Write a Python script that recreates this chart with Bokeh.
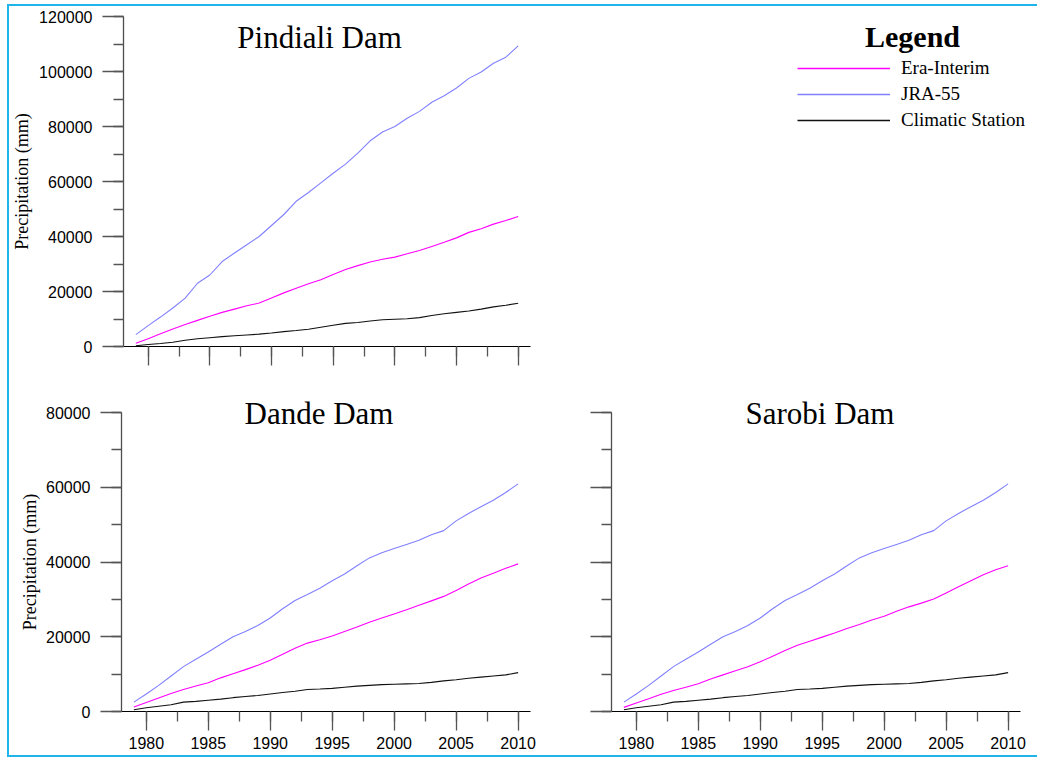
from bokeh.plotting import figure
from bokeh.layouts import column, row
from bokeh.models import (Range1d, SingleIntervalTicker, BasicTickFormatter, Label, Title,
                          Legend, LegendItem, ColumnDataSource)
from bokeh.embed import file_html
from bokeh.resources import INLINE

years = list(range(1979, 2011))

pindiali_era = [1200, 2800, 4600, 6400, 8000, 9500, 11000, 12400, 13600, 14800, 15800,
                17600, 19500, 21200, 22800, 24300, 26200, 28000, 29400, 30700, 31700,
                32500, 33700, 34900, 36400, 37900, 39500, 41500, 42800, 44500, 45800, 47300]
pindiali_jra = [4300, 7600, 10700, 14000, 17600, 23000, 26000, 30900, 34000, 37000, 40000,
                44000, 48000, 52800, 56000, 59500, 63000, 66300, 70300, 74800, 78000,
                80000, 83000, 85500, 88800, 91200, 94000, 97500, 99800, 103000, 105200, 109300]
pindiali_stn = [300, 700, 1100, 1550, 2300, 2800, 3200, 3600, 3900, 4200, 4500,
                4900, 5400, 5800, 6300, 7000, 7700, 8400, 8700, 9300, 9700,
                9900, 10100, 10500, 11300, 11900, 12400, 12900, 13600, 14400, 15000, 15700]

dande_era = [1200, 2400, 3600, 4800, 5900, 6800, 7700, 9000, 10100, 11200, 12400,
             13700, 15300, 16900, 18300, 19200, 20200, 21400, 22600, 23900, 25000,
             26100, 27200, 28400, 29600, 30800, 32400, 34100, 35700, 37000, 38300, 39500]
dande_jra = [2500, 4700, 7000, 9500, 12000, 14000, 15900, 18000, 20000, 21400, 23000,
             25000, 27500, 29700, 31300, 33000, 35000, 36800, 39000, 41100, 42500,
             43600, 44700, 45800, 47300, 48400, 51000, 53000, 54800, 56500, 58600, 60900]
dande_stn = [450, 1000, 1400, 1800, 2500, 2700, 3000, 3300, 3700, 4000, 4300,
             4700, 5100, 5400, 5900, 6000, 6200, 6500, 6800, 7000, 7200,
             7300, 7400, 7500, 7800, 8200, 8500, 8900, 9200, 9500, 9800, 10400]

sarobi_era = [1100, 2300, 3400, 4600, 5600, 6500, 7400, 8700, 9800, 10900, 12000,
              13300, 14800, 16300, 17700, 18800, 19900, 21000, 22200, 23300, 24500,
              25500, 26800, 28000, 29000, 30100, 31700, 33400, 35000, 36600, 37900, 39000]
sarobi_jra = [2500, 4700, 7000, 9500, 12000, 14000, 15900, 18000, 20000, 21400, 23000,
              25000, 27500, 29700, 31300, 33000, 35000, 36800, 39000, 41100, 42500,
              43600, 44700, 45800, 47300, 48400, 51000, 53000, 54800, 56500, 58600, 60900]
sarobi_stn = [450, 1000, 1400, 1800, 2500, 2700, 3000, 3300, 3700, 4000, 4300,
              4700, 5100, 5400, 5900, 6000, 6200, 6500, 6800, 7000, 7200,
              7300, 7400, 7500, 7800, 8200, 8500, 8900, 9200, 9500, 9800, 10400]

series_names = ["Era-Interim", "JRA-55", "Climatic Station"]
series_colors = ["#ff00ff", "#8080ff", "#111111"]

SERIF = "Liberation Serif"
SANS = "Liberation Sans"


def make_panel(era, jra, stn, ymax, width, height, mb_left, mb_right, mb_top, mb_bottom,
               show_xlabels, show_ylabels, ylabel_standoff):
    p = figure(width=width, height=height, x_range=Range1d(1978, 2011), y_range=Range1d(0, ymax),
               output_backend="svg", toolbar_location=None, title=None,
               min_border_left=mb_left, min_border_right=mb_right,
               min_border_top=mb_top, min_border_bottom=mb_bottom)
    p.outline_line_color = None
    p.grid.visible = False
    p.background_fill_color = "white"
    p.border_fill_color = "white"

    src = ColumnDataSource(dict(year=years, era=era, jra=jra, stn=stn))
    for key, col in zip(["era", "jra", "stn"], series_colors):
        p.line("year", key, source=src, line_color=col, line_width=1.1)

    xa = p.xaxis[0]
    xa.ticker = SingleIntervalTicker(interval=5, num_minor_ticks=2)
    xa.major_tick_in = 0
    xa.major_tick_out = 19
    xa.minor_tick_in = 0
    xa.minor_tick_out = 10
    xa.axis_line_color = "black"
    xa.major_tick_line_color = "#555555"
    xa.minor_tick_line_color = "#555555"
    xa.major_tick_line_width = 1.3
    xa.minor_tick_line_width = 1.3
    xa.major_label_text_font = SANS
    xa.major_label_text_color = "black"
    if show_xlabels:
        xa.major_label_text_font_size = "16px"
        xa.major_label_standoff = 6
    else:
        xa.major_label_text_font_size = "0px"
        xa.major_label_standoff = 0

    ya = p.yaxis[0]
    ya.ticker = SingleIntervalTicker(interval=20000, num_minor_ticks=2)
    ya.formatter = BasicTickFormatter(use_scientific=False)
    ya.major_tick_in = 0
    ya.major_tick_out = 21
    ya.minor_tick_in = 0
    ya.minor_tick_out = 10
    ya.axis_line_color = "#4d4d4d"
    ya.axis_line_width = 1.3
    ya.major_tick_line_color = "#555555"
    ya.minor_tick_line_color = "#555555"
    ya.major_tick_line_width = 1.3
    ya.minor_tick_line_width = 1.3
    ya.major_label_text_font = SANS
    ya.major_label_text_color = "black"
    ya.major_label_standoff = 10
    if show_ylabels:
        ya.major_label_text_font_size = "16px"
        ya.axis_label = "Precipitation (mm)"
        ya.axis_label_text_font = SERIF
        ya.axis_label_text_font_style = "normal"
        ya.axis_label_text_font_size = "18px"
        ya.axis_label_text_color = "black"
        ya.axis_label_standoff = ylabel_standoff
    else:
        ya.major_label_text_font_size = "0px"
        ya.major_label_standoff = 0
    return p


def panel_title(text, offset):
    return Title(text=text, align="left", offset=offset, standoff=-37,
                 text_font=SERIF, text_font_style="normal", text_font_size="31px",
                 text_color="black", vertical_align="bottom")


# Top-left: Pindiali Dam (frame x 121..530, y 16..346)
pA = make_panel(pindiali_era, pindiali_jra, pindiali_stn, 120000,
                539, 372, 112, 18, 10, 32, False, True, 4)
pA.add_layout(Label(x=1993.9, y=112400, text="Pindiali Dam", text_font=SERIF,
                    text_font_size="31px", text_color="black",
                    text_align="center", text_baseline="middle"))

# Legend panel (data units == pixels)
pL = figure(width=489, height=372, x_range=Range1d(0, 489), y_range=Range1d(0, 372),
            output_backend="svg", toolbar_location=None, title=None,
            x_axis_location=None, y_axis_location=None, min_border=0)
pL.outline_line_color = None
pL.grid.visible = False
nan = float("nan")
proxies = [pL.line(x=[nan], y=[nan], line_color=c, line_width=1.3) for c in series_colors]
legend = Legend(items=[LegendItem(label=n, renderers=[r]) for n, r in zip(series_names, proxies)],
                location=(249, 215), glyph_width=93, glyph_height=20, label_height=20,
                spacing=4, label_standoff=11, padding=0, margin=0,
                border_line_color=None, background_fill_alpha=0,
                label_text_font=SERIF, label_text_font_size="19px", label_text_color="black")
pL.add_layout(legend)
pL.add_layout(Label(x=364, y=349, text="Legend", text_font=SERIF, text_font_style="bold",
                    text_font_size="30px", text_color="black",
                    text_align="center", text_baseline="middle"))

# Bottom-left: Dande Dam (frame x 121..530, y 412..711)
pB = make_panel(dande_era, dande_jra, dande_stn, 80000,
                539, 377, 112, 18, 34, 44, True, True, 3)
pB.title = panel_title("Dande Dam", 123)

# Bottom-right: Sarobi Dam (frame x 611..1020)
pC = make_panel(sarobi_era, sarobi_jra, sarobi_stn, 80000,
                489, 377, 63, 17, 34, 44, True, False, 3)
pC.title = panel_title("Sarobi Dam", 134)

border = "2px solid #1fb4ea"
layout = column(row(pA, pL), row(pB, pC),
                styles={"border-left": border, "border-top": border, "border-bottom": border,
                        "margin-left": "7px", "margin-top": "4px"})

open("out.html", "w").write(file_html(layout, INLINE))
